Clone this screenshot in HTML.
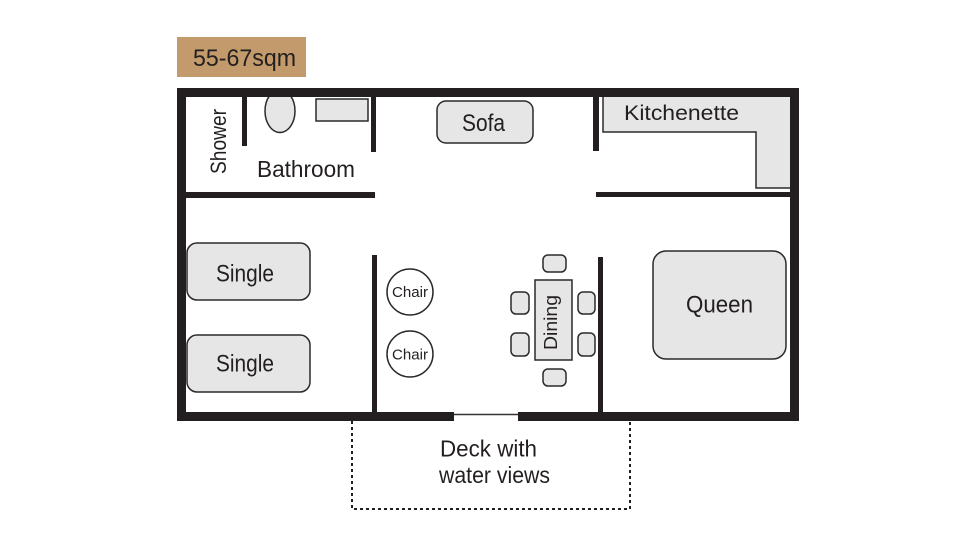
<!DOCTYPE html>
<html>
<head>
<meta charset="utf-8">
<style>
  html,body{margin:0;padding:0;background:#fff;}
  svg{display:block;}
  text{font-family:"Liberation Sans", sans-serif; fill:#231f20;}
</style>
</head>
<body>
<svg width="980" height="551" viewBox="0 0 980 551" xmlns="http://www.w3.org/2000/svg">
  <rect x="0" y="0" width="980" height="551" fill="#fff"/>

  <!-- area label -->
  <rect x="177" y="37" width="129" height="40" fill="#c29a6b"/>
  <text x="193" y="66" font-size="24" textLength="103" lengthAdjust="spacingAndGlyphs">55-67sqm</text>

  <!-- furniture (drawn before walls so walls overlap) -->
  <g fill="#e6e6e6" stroke="#2a2a2a" stroke-width="1.5">
    <ellipse cx="280" cy="111" rx="15" ry="21.5"/>
    <rect x="316" y="99" width="52" height="22"/>
    <rect x="437" y="101" width="96" height="42" rx="9"/>
    <polygon points="603,96 791,96 791,188 756,188 756,132 603,132"/>
    <rect x="187" y="243" width="123" height="57" rx="10"/>
    <rect x="187" y="335" width="123" height="57" rx="10"/>
    <rect x="653" y="251" width="133" height="108" rx="13"/>
    <circle cx="410" cy="292" r="23" fill="#fff"/>
    <circle cx="410" cy="354" r="23" fill="#fff"/>
    <rect x="535" y="280" width="37" height="80"/>
    <rect x="543" y="255" width="23" height="17" rx="5"/>
    <rect x="543" y="369" width="23" height="17" rx="5"/>
    <rect x="511" y="292" width="18" height="22" rx="5"/>
    <rect x="511" y="333" width="18" height="23" rx="5"/>
    <rect x="578" y="292" width="17" height="22" rx="5"/>
    <rect x="578" y="333" width="17" height="23" rx="5"/>
  </g>

  <!-- walls -->
  <g fill="#231f20">
    <rect x="177" y="88" width="622" height="9"/>
    <rect x="177" y="88" width="9" height="333"/>
    <rect x="790" y="88" width="9" height="333"/>
    <rect x="177" y="412" width="277" height="9"/>
    <rect x="518" y="412" width="281" height="9"/>
    <rect x="242" y="97" width="5" height="49"/>
    <rect x="371" y="97" width="5" height="55"/>
    <rect x="177" y="192" width="198" height="6"/>
    <rect x="593" y="97" width="6" height="54"/>
    <rect x="596" y="192" width="195" height="5"/>
    <rect x="372" y="255" width="5" height="160"/>
    <rect x="598" y="257" width="5" height="158"/>
  </g>
  <line x1="454" y1="414.5" x2="518" y2="414.5" stroke="#333" stroke-width="1.5"/>

  <!-- deck -->
  <path d="M352,421 V509 H630 V421" fill="none" stroke="#231f20" stroke-width="2" stroke-dasharray="3 3"/>

  <!-- labels -->
  <text transform="translate(226,174) rotate(-90)" x="0" y="0" font-size="22" textLength="65" lengthAdjust="spacingAndGlyphs">Shower</text>
  <text x="257" y="177" font-size="23" textLength="98" lengthAdjust="spacingAndGlyphs">Bathroom</text>
  <text x="462" y="131" font-size="24" textLength="43" lengthAdjust="spacingAndGlyphs">Sofa</text>
  <text x="624" y="120" font-size="21" textLength="115" lengthAdjust="spacingAndGlyphs">Kitchenette</text>
  <text x="216" y="281.5" font-size="24" textLength="58" lengthAdjust="spacingAndGlyphs">Single</text>
  <text x="216" y="371.5" font-size="24" textLength="58" lengthAdjust="spacingAndGlyphs">Single</text>
  <text x="392" y="297" font-size="15" textLength="36" lengthAdjust="spacingAndGlyphs">Chair</text>
  <text x="392" y="359.5" font-size="15" textLength="36" lengthAdjust="spacingAndGlyphs">Chair</text>
  <text transform="translate(557,350) rotate(-90)" x="0" y="0" font-size="18" textLength="55" lengthAdjust="spacingAndGlyphs">Dining</text>
  <text x="686" y="312.5" font-size="24" textLength="67" lengthAdjust="spacingAndGlyphs">Queen</text>
  <text x="440" y="456.5" font-size="23" textLength="97" lengthAdjust="spacingAndGlyphs">Deck with</text>
  <text x="439" y="483" font-size="23" textLength="111" lengthAdjust="spacingAndGlyphs">water views</text>
</svg>
</body>
</html>
